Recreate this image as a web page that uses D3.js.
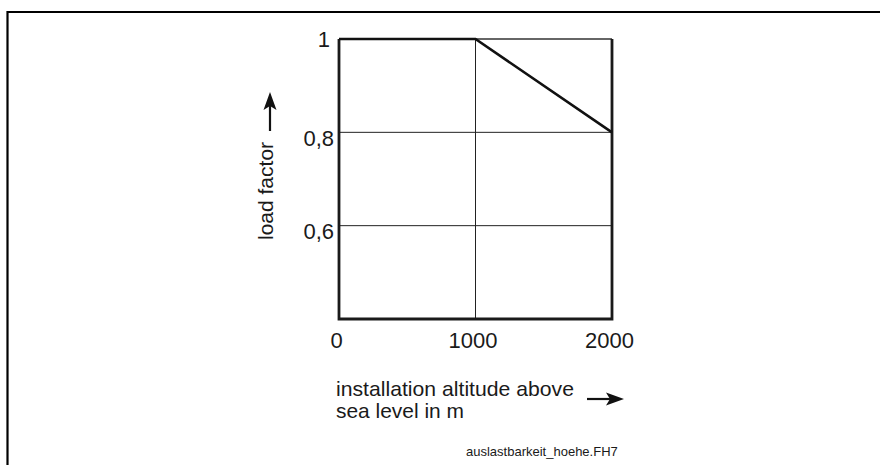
<!DOCTYPE html>
<html>
<head>
<meta charset="utf-8">
<script src="https://cdn.jsdelivr.net/npm/d3@7"></script>
<style>
  body { margin: 0; background: #fff; }
  text { font-family: "Liberation Sans", Arial, sans-serif; fill: #1a1a1a; }
</style>
</head>
<body>
<svg id="chart"></svg>
<script>
// altitude (m) vs. load factor
const altitudes = [0, 1000, 2000];
const loadFactors = [1, 1, 0.8];
const xTicks = [0, 1000, 2000];
const yTicks = [1, 0.8, 0.6];
const yTickLabels = ['1', '0,8', '0,6'];

const width = 880;
const height = 465;

const svg = d3.select('#chart')
  .attr('width', width)
  .attr('height', height);

// outer frame (runs off right and bottom edges)
svg.append('path')
  .attr('d', 'M' + 7.5 + ',' + height + 'V' + 12 + 'H' + width)
  .attr('fill', 'none')
  .attr('stroke', '#000')
  .attr('stroke-width', 2.2);

const x = d3.scaleLinear().domain([0, 2000]).range([339, 612]);
const y = d3.scaleLinear().domain([0.4, 1]).range([319, 39]);

// thin grid
const grid = svg.append('g')
  .attr('stroke', '#222')
  .attr('stroke-width', 1);
grid.selectAll('.vgrid')
  .data([1000])
  .enter()
  .append('line')
  .attr('x1', d => x(d)).attr('x2', d => x(d))
  .attr('y1', y(1)).attr('y2', y(0.4));
grid.selectAll('.hgrid')
  .data([0.8, 0.6])
  .enter()
  .append('line')
  .attr('x1', x(0)).attr('x2', x(2000))
  .attr('y1', d => y(d)).attr('y2', d => y(d));

// top edge, thinner
svg.append('line')
  .attr('x1', x(0)).attr('x2', x(2000))
  .attr('y1', y(1)).attr('y2', y(1))
  .attr('stroke', '#333')
  .attr('stroke-width', 1.6);

// thick frame: left, bottom, right
svg.append('path')
  .attr('d', d3.line()([[x(0), y(1)], [x(0), y(0.4)], [x(2000), y(0.4)], [x(2000), y(1)]]))
  .attr('fill', 'none')
  .attr('stroke', '#1a1a1a')
  .attr('stroke-width', 2.8);

// the curve
svg.append('path')
  .datum(altitudes.map((a, i) => [a, loadFactors[i]]))
  .attr('d', d3.line().x(d => x(d[0])).y(d => y(d[1])))
  .attr('fill', 'none')
  .attr('stroke', '#111')
  .attr('stroke-width', 2.6);

// y tick labels
const yAxis = svg.append('g')
  .attr('transform', 'translate(' + x(0) + ',0)')
  .call(d3.axisLeft(y).tickValues(yTicks).tickSize(0).tickPadding(6)
    .tickFormat((d, i) => yTickLabels[i]));
yAxis.select('.domain').remove();
yAxis.selectAll('text')
  .attr('font-size', 22)
  .attr('font-family', null)
  .attr('fill', null)
  .attr('dy', d => d === 1 ? '0.36em' : '0.6em')
  .attr('x', d => d === 1 ? -9 : -5);

// x tick labels
const xAxis = svg.append('g')
  .attr('transform', 'translate(0,' + y(0.4) + ')')
  .call(d3.axisBottom(x).tickValues(xTicks).tickSize(0).tickPadding(13)
    .tickFormat(d3.format('d')));
xAxis.select('.domain').remove();
xAxis.selectAll('text')
  .attr('font-size', 22)
  .attr('font-family', null)
  .attr('fill', null)
  .attr('dx', -3);

// axis titles (narrow lettering as in the reference)
svg.append('text')
  .attr('x', 336).attr('y', 396)
  .attr('font-size', 21)
  .attr('textLength', 238)
  .attr('lengthAdjust', 'spacingAndGlyphs')
  .text('installation altitude above');
svg.append('text')
  .attr('x', 336).attr('y', 418)
  .attr('font-size', 21)
  .attr('textLength', 128)
  .attr('lengthAdjust', 'spacingAndGlyphs')
  .text('sea level in m');

svg.append('text')
  .attr('transform', 'translate(273,240) rotate(-90)')
  .attr('font-size', 21)
  .text('load factor');

// arrows
function arrow(x1, y1, x2, y2) {
  const ang = Math.atan2(y2 - y1, x2 - x1);
  const len = 18, half = 6.5;
  const bx = x2 - len * Math.cos(ang), by = y2 - len * Math.sin(ang);
  const nx = -Math.sin(ang), ny = Math.cos(ang);
  const mx = x2 - (len * 0.78) * Math.cos(ang), my = y2 - (len * 0.78) * Math.sin(ang);
  svg.append('line')
    .attr('x1', x1).attr('y1', y1).attr('x2', mx).attr('y2', my)
    .attr('stroke', '#111').attr('stroke-width', 2.2);
  svg.append('path')
    .attr('d', 'M' + x2 + ',' + y2 +
      'L' + (bx + nx * half) + ',' + (by + ny * half) +
      'L' + mx + ',' + my +
      'L' + (bx - nx * half) + ',' + (by - ny * half) + 'Z')
    .attr('fill', '#111');
}
arrow(270, 131, 270, 92);
arrow(587, 399, 624, 399);

// file name
svg.append('text')
  .attr('x', 466).attr('y', 456)
  .attr('font-size', 13)
  .text('auslastbarkeit_hoehe.FH7');
</script>
</body>
</html>
